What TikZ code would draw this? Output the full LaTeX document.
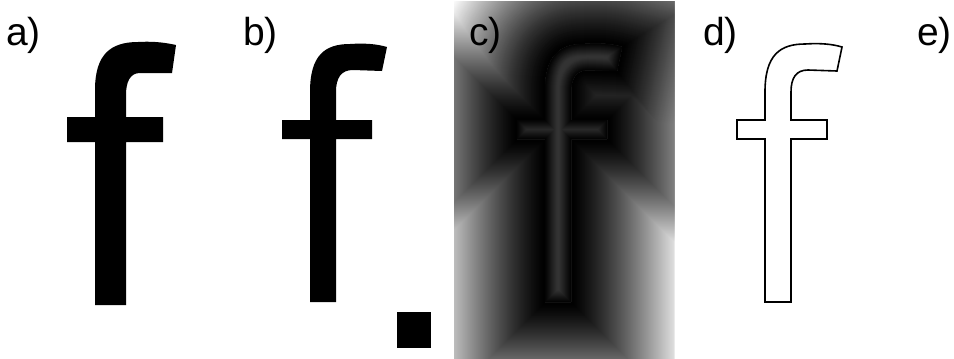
\documentclass[tikz,border=0pt]{standalone}
\usepackage{fontspec}
\setmainfont{Liberation Sans}
\tikzset{
  lbl/.style={font=\fontsize{39}{39}\selectfont, inner sep=0pt, anchor=base west},
  fshape/.style={insert path={(765,302) -- (765,139) -- (737,139) -- (737,120) -- (765,120) -- (765,92)
     .. controls (765,55) and (780,44) .. (805,44)
     .. controls (820,43) and (832,44) .. (842,47)
     -- (837,71) -- (808,70)
     .. controls (796,70) and (791,78) .. (791,92)
     -- (791,120) -- (827,120) -- (827,139) -- (791,139) -- (791,302) -- cycle}},
  fbold/.style={insert path={(95,305) -- (95,142) -- (67,142) -- (67,117) -- (95,117) -- (95,90)
     .. controls (95,55) and (110,42) .. (138,42)
     .. controls (155,41) and (167,43) .. (176,45)
     -- (172,73) -- (140,73)
     .. controls (130,73) and (126,82) .. (126,95)
     -- (126,117) -- (163,117) -- (163,142) -- (126,142) -- (126,305) -- cycle}},
  band/.style={line join=miter, miter limit=10},
}
\begin{document}
\begin{tikzpicture}[x=1pt,y=-1pt]
\useasboundingbox (0,0) rectangle (954,359);
% a) bold f
\fill[black, fbold];
% b) regular f and square
\begin{scope}[xshift=-455pt]
  \fill[black, fshape];
\end{scope}
\fill[black] (397,312) rectangle (431,348);
% c) distance field
\begin{scope}
  \clip (454,1) rectangle (674,359);
  \fill[white] (454,1) rectangle (674,359);
  \begin{scope}[xshift=-220pt]
    \foreach \d in {135,134,...,1} {
      \pgfmathsetmacro\p{100*min(1,\d/115)^1.3}
      \draw[band, line width=2*\d pt, draw=white!\p!black, fshape];
    }
  \end{scope}
  \begin{scope}[xshift=-220pt]
    \path[clip, fshape];
    \fill[white!20!black, fshape];
    \foreach \d in {14,13,...,1} {
      \pgfmathsetmacro\p{min(20,\d*1.6)}
      \draw[band, line width=2*\d pt, draw=white!\p!black, fshape];
    }
  \end{scope}
\end{scope}
% d) outline f
\draw[black, line width=1.6pt, line join=miter, fshape];
% labels
\node[lbl] (la) at (6,45.5) {a)};
\node[lbl] (lb) at (243,45.5) {b)};
\node[lbl] (lc) at (469,45.5) {c)};
\node[lbl] (ld) at (703,45.5) {d)};
\node[lbl] (le) at (917,45.5) {e)};
\end{tikzpicture}
\end{document}
